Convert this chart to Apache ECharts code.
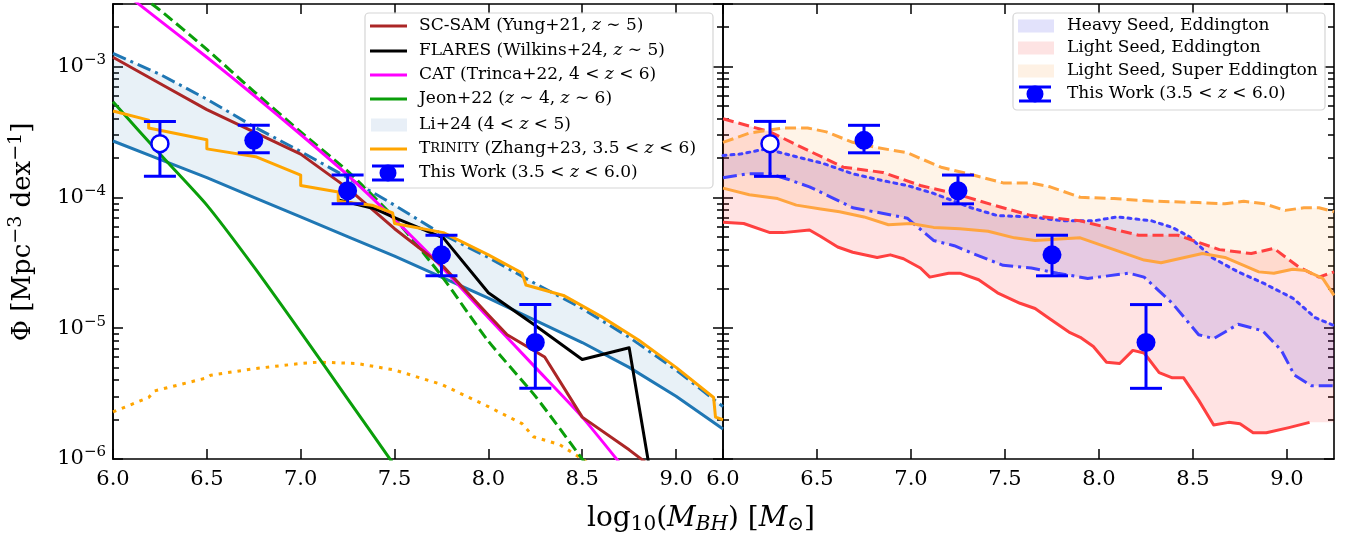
<!DOCTYPE html>
<html>
<head>
<meta charset="utf-8">
<script src="https://cdn.jsdelivr.net/npm/echarts@6/dist/echarts.min.js"></script>
<style>
  html, body { margin: 0; padding: 0; background: #fff; }
  #main { width: 1345px; height: 538px; }
</style>
</head>
<body>
<div id="main"></div>
<script>
// x = log10(M_BH), y = log10(Phi)
const FONT = '"DejaVu Serif", "Liberation Serif", serif';
const X_RANGE = [6, 9.25];
const PHI_RANGE = [1e-6, 3e-3];

const xTickLabels = [6.0, 6.5, 7.0, 7.5, 8.0, 8.5, 9.0];
const yDecades = [-6, -5, -4, -3];
const minorMantissas = [2, 3, 4, 5, 6, 7, 8, 9];

// ---- left panel ----
const scSam = [[6.0,-2.93],[6.25,-3.13],[6.5,-3.33],[6.75,-3.50],[7.0,-3.67],[7.25,-3.93],[7.5,-4.24],
  [7.76,-4.53],[8.0,-4.90],[8.1,-5.05],[8.3,-5.22],[8.5,-5.68],[8.75,-5.93],[8.86,-6.05]];
const flares = [[7.2,-4.02],[7.4,-4.09],[7.49,-4.15],[7.76,-4.31],[8.0,-4.73],[8.25,-4.98],
  [8.5,-5.24],[8.75,-5.15],[8.85,-6.0],[8.87,-6.2]];
const cat = [[6.0,-2.37],[6.25,-2.65],[6.5,-2.93],[6.75,-3.22],[7.0,-3.52],[7.25,-3.83],[7.5,-4.17],
  [7.75,-4.53],[8.0,-4.92],[8.25,-5.30],[8.5,-5.68],[8.75,-6.12]];
const jeonZ4 = [[6.0,-2.30],[6.25,-2.57],[6.5,-2.87],[6.75,-3.19],[7.0,-3.50],[7.25,-3.80],[7.5,-4.16],
  [7.75,-4.60],[8.0,-5.10],[8.25,-5.52],[8.5,-6.0],[8.6,-6.2]];
const jeonZ6 = [[6.0,-3.27],[6.25,-3.67],[6.5,-4.06],[6.75,-4.53],[7.0,-5.03],[7.25,-5.54],[7.5,-6.05]];
const li24Upper = [[6.0,-2.90],[6.25,-3.06],[6.5,-3.25],[6.75,-3.46],[7.0,-3.65],[7.25,-3.85],[7.5,-4.06],
  [7.75,-4.28],[8.0,-4.46],[8.25,-4.66],[8.5,-4.85],[8.75,-5.07],[9.0,-5.32],[9.25,-5.60]];
const li24Lower = [[6.0,-3.57],[6.25,-3.71],[6.5,-3.85],[6.75,-4.00],[7.0,-4.15],[7.25,-4.30],[7.5,-4.45],
  [7.75,-4.61],[8.0,-4.77],[8.25,-4.94],[8.5,-5.11],[8.75,-5.30],[9.0,-5.52],[9.25,-5.77]];
const trinity = [[6.0,-3.34],[6.19,-3.41],[6.19,-3.47],[6.5,-3.56],[6.5,-3.63],[6.76,-3.69],[7.0,-3.83],
  [7.0,-3.91],[7.2,-3.96],[7.2,-4.03],[7.38,-4.06],[7.49,-4.12],[7.5,-4.20],[7.76,-4.27],[8.0,-4.44],
  [8.18,-4.58],[8.2,-4.67],[8.4,-4.75],[8.6,-4.91],[8.8,-5.09],[9.0,-5.30],[9.2,-5.53],[9.21,-5.68],[9.25,-5.70]];
const trinityDotted = [[6.0,-5.64],[6.19,-5.53],[6.22,-5.48],[6.5,-5.38],[6.52,-5.36],[6.75,-5.31],[7.0,-5.27],
  [7.1,-5.26],[7.3,-5.27],[7.5,-5.32],[7.75,-5.43],[8.0,-5.60],[8.18,-5.73],[8.24,-5.83],[8.38,-5.89],
  [8.5,-6.0],[8.55,-6.05]];

// ---- this work (both panels) ----
const thisWorkX = [6.25, 6.75, 7.25, 7.75, 8.25];
const thisWorkY = [-3.59, -3.565, -3.95, -4.44, -5.11];
const thisWorkLo = [-3.84, -3.66, -4.05, -4.60, -5.46];
const thisWorkHi = [-3.42, -3.45, -3.83, -4.29, -4.82];
const thisWorkOpen = [1, 0, 0, 0, 0];

// ---- right panel ----
const heavyUpper = [[6.0,-3.68],[6.09,-3.67],[6.23,-3.63],[6.39,-3.69],[6.53,-3.74],[6.69,-3.82],[6.84,-3.87],
  [6.98,-3.91],[7.12,-3.97],[7.32,-4.08],[7.46,-4.14],[7.64,-4.15],[7.81,-4.18],[7.97,-4.18],[8.10,-4.15],
  [8.28,-4.18],[8.39,-4.23],[8.48,-4.30],[8.60,-4.46],[8.74,-4.57],[8.88,-4.66],[9.03,-4.77],[9.15,-4.92],[9.25,-4.98]];
const heavyLower = [[6.0,-3.85],[6.13,-3.82],[6.25,-3.82],[6.34,-3.86],[6.46,-3.92],[6.59,-4.01],[6.69,-4.08],
  [6.84,-4.12],[6.98,-4.16],[7.12,-4.33],[7.23,-4.37],[7.33,-4.43],[7.49,-4.52],[7.64,-4.54],[7.78,-4.58],
  [7.94,-4.62],[8.16,-4.58],[8.24,-4.61],[8.39,-4.81],[8.53,-5.05],[8.61,-5.08],[8.74,-4.97],[8.87,-5.02],
  [8.97,-5.17],[9.04,-5.36],[9.13,-5.44],[9.25,-5.44]];
const lightUpper = [[6.0,-3.40],[6.25,-3.50],[6.45,-3.64],[6.64,-3.77],[6.85,-3.81],[7.05,-3.91],[7.23,-3.97],
  [7.44,-4.06],[7.64,-4.14],[7.90,-4.18],[8.21,-4.29],[8.42,-4.29],[8.64,-4.40],[8.81,-4.43],[8.93,-4.39],
  [9.06,-4.53],[9.17,-4.61],[9.25,-4.57]];
const lightLower = [[6.0,-4.19],[6.11,-4.20],[6.25,-4.27],[6.32,-4.27],[6.46,-4.25],[6.52,-4.30],[6.61,-4.38],
  [6.69,-4.42],[6.82,-4.46],[6.89,-4.44],[6.96,-4.47],[7.05,-4.54],[7.10,-4.61],[7.20,-4.58],[7.26,-4.58],
  [7.36,-4.63],[7.46,-4.73],[7.58,-4.81],[7.66,-4.85],[7.73,-4.92],[7.84,-5.03],[7.90,-5.07],[7.97,-5.14],
  [8.04,-5.26],[8.11,-5.27],[8.18,-5.17],[8.24,-5.19],[8.32,-5.34],[8.39,-5.38],[8.45,-5.38],[8.53,-5.55],
  [8.61,-5.74],[8.69,-5.72],[8.75,-5.73],[8.82,-5.80],[8.89,-5.80],[9.01,-5.76],[9.12,-5.72]];
const lightLowerFillEnd = [9.25, -5.72];
const superUpper = [[6.0,-3.58],[6.14,-3.51],[6.32,-3.47],[6.45,-3.47],[6.55,-3.50],[6.69,-3.58],[6.82,-3.62],
  [6.98,-3.66],[7.16,-3.77],[7.33,-3.83],[7.49,-3.89],[7.64,-3.89],[7.74,-3.92],[7.90,-4.00],[8.08,-4.01],
  [8.29,-4.03],[8.53,-4.04],[8.67,-4.05],[8.77,-4.03],[8.88,-4.05],[8.99,-4.10],[9.09,-4.08],[9.17,-4.08],[9.25,-4.11]];
const superLower = [[6.0,-3.93],[6.14,-3.98],[6.29,-4.01],[6.39,-4.06],[6.52,-4.09],[6.62,-4.11],[6.75,-4.15],
  [6.88,-4.21],[7.00,-4.20],[7.12,-4.23],[7.26,-4.24],[7.41,-4.26],[7.55,-4.31],[7.66,-4.33],[7.90,-4.31],
  [8.08,-4.40],[8.24,-4.48],[8.33,-4.50],[8.55,-4.43],[8.67,-4.46],[8.85,-4.57],[8.93,-4.58],[9.03,-4.55],
  [9.10,-4.56],[9.19,-4.62],[9.25,-4.75]];

const C = {
  scSam: '#ab2626', flares: '#000000', cat: '#ff00ff', jeon: '#0a9e0a', li: '#1f77b4',
  liFill: 'rgba(31,119,180,0.1)', trinity: '#ffa500', work: '#0000ff',
  red: '#ff4040', blue: '#4040ff', orange: '#ffa540',
  heavyFill: 'rgba(0,0,255,0.11)', lightFill: 'rgba(255,0,0,0.11)', superFill: 'rgba(255,150,30,0.1)'
};
const DASH = [11, 5], DASHDOT = [14, 5, 3, 5], DOT = [3, 5];

const toPhi = pts => pts.map(p => [p[0], Math.pow(10, p[1])]);
const minorLogs = [];
yDecades.forEach(d => minorMantissas.forEach(m => {
  const v = d + Math.log10(m);
  if (v <= Math.log10(PHI_RANGE[1]) + 1e-9) minorLogs.push(v);
}));

function line(pts, color, type, panel, extra) {
  return Object.assign({
    type: 'line', xAxisIndex: panel * 2, yAxisIndex: panel * 4, data: toPhi(pts),
    symbol: 'none', silent: true, z: 3,
    lineStyle: { color: color, width: 3, type: type || 'solid', cap: 'butt', join: 'round' }
  }, extra || {});
}

function band(upper, lower, fill, panel) {
  return {
    type: 'custom', xAxisIndex: panel * 2, yAxisIndex: panel * 4, clip: true, silent: true, z: 1,
    data: [[7, 1e-4]],
    renderItem: function (params, api) {
      const pts = upper.map(p => api.coord([p[0], Math.pow(10, p[1])]))
        .concat(lower.slice().reverse().map(p => api.coord([p[0], Math.pow(10, p[1])])));
      return { type: 'polygon', shape: { points: pts }, style: { fill: fill } };
    }
  };
}

function thisWork(panel) {
  return {
    type: 'custom', xAxisIndex: panel * 2, yAxisIndex: panel * 4, silent: true, z: 10,
    data: thisWorkX.map((x, i) => [x, Math.pow(10, thisWorkY[i]), Math.pow(10, thisWorkLo[i]),
      Math.pow(10, thisWorkHi[i]), thisWorkOpen[i]]),
    renderItem: function (params, api) {
      const c = api.coord([api.value(0), api.value(1)]);
      const lo = api.coord([api.value(0), api.value(2)]);
      const hi = api.coord([api.value(0), api.value(3)]);
      const st = { stroke: C.work, lineWidth: 3 };
      const open = api.value(4) === 1;
      return { type: 'group', children: [
        { type: 'line', shape: { x1: c[0], y1: lo[1], x2: c[0], y2: hi[1] }, style: st },
        { type: 'line', shape: { x1: c[0] - 16, y1: lo[1], x2: c[0] + 16, y2: lo[1] }, style: st },
        { type: 'line', shape: { x1: c[0] - 16, y1: hi[1], x2: c[0] + 16, y2: hi[1] }, style: st },
        { type: 'circle', shape: { cx: c[0], cy: c[1], r: open ? 8.5 : 9.5 },
          style: open ? { fill: '#fff', stroke: C.work, lineWidth: 2.5 } : { fill: C.work } }
      ]};
    }
  };
}

const axisLineStyle = { color: '#000', width: 1.6 };
const tickStyle = { color: '#000', width: 1.5 };

function xAxisDef(grid, pos, labels) {
  return {
    type: 'value', gridIndex: grid, position: pos, min: X_RANGE[0], max: X_RANGE[1],
    axisLine: { show: true, onZero: false, lineStyle: axisLineStyle },
    axisTick: { show: true, inside: true, length: 10, customValues: xTickLabels, lineStyle: tickStyle },
    axisLabel: { show: labels, customValues: xTickLabels, formatter: v => v.toFixed(1), margin: 10,
      color: '#000', fontFamily: FONT, fontSize: 21 },
    splitLine: { show: false }
  };
}
// major ticks only
function yAxisDef(grid, pos) {
  return {
    type: 'log', logBase: 10, gridIndex: grid, position: pos, min: PHI_RANGE[0], max: PHI_RANGE[1],
    axisLine: { show: true, onZero: false, lineStyle: axisLineStyle },
    axisTick: { show: true, inside: true, length: 10, lineStyle: tickStyle },
    axisLabel: { show: false },
    splitLine: { show: false }
  };
}
// tick labels only (10^n)
function yLabelDef(grid) {
  return {
    type: 'log', logBase: 10, gridIndex: grid, position: 'left', min: PHI_RANGE[0], max: PHI_RANGE[1],
    axisLine: { show: false, onZero: false }, axisTick: { show: false }, splitLine: { show: false },
    axisLabel: {
      show: true, margin: 7, color: '#000',
      formatter: function (v) {
        const l = Math.log10(v), n = Math.round(l);
        if (Math.abs(l - n) > 0.01) return '';
        return '{b|10}{s|\u2212' + (-n) + '}';
      },
      rich: {
        b: { fontFamily: FONT, fontSize: 21, color: '#000' },
        s: { fontFamily: FONT, fontSize: 15, color: '#000', padding: [0, 0, 13, 0] }
      }
    }
  };
}
function yMinorDef(grid, pos) {
  return {
    type: 'value', gridIndex: grid, position: pos, min: -6, max: Math.log10(PHI_RANGE[1]),
    axisLine: { show: false, onZero: false },
    axisTick: { show: true, inside: true, length: 6, customValues: minorLogs, lineStyle: tickStyle },
    axisLabel: { show: false }, splitLine: { show: false }
  };
}

// ---- legends (decoration) ----
const legRich = {
  n: { fontFamily: FONT, fontSize: 17, color: '#000' },
  i: { fontFamily: FONT, fontSize: 17, fontStyle: 'italic', color: '#000' },
  sc: { fontFamily: FONT, fontSize: 13, color: '#000' }
};
function legText(x, y, t) {
  return { type: 'text', x: x, y: y, z: 100,
    style: { text: t, rich: legRich, align: 'left', verticalAlign: 'middle' } };
}
function legLine(x, y, color, dash) {
  return { type: 'line', z: 100, shape: { x1: x, y1: y, x2: x + 37, y2: y },
    style: { stroke: color, lineWidth: 3, lineDash: dash || null } };
}
function legPatch(x, y, fill) {
  return { type: 'rect', z: 100, shape: { x: x, y: y - 6.5, width: 36, height: 13 }, style: { fill: fill } };
}
function legErr(cx, cy) {
  const st = { stroke: C.work, lineWidth: 3 };
  return { type: 'group', z: 100, children: [
    { type: 'line', z: 100, shape: { x1: cx, y1: cy - 7, x2: cx, y2: cy + 7 }, style: st },
    { type: 'line', z: 100, shape: { x1: cx - 16, y1: cy - 7, x2: cx + 16, y2: cy - 7 }, style: st },
    { type: 'line', z: 100, shape: { x1: cx - 16, y1: cy + 7, x2: cx + 16, y2: cy + 7 }, style: st },
    { type: 'circle', z: 100, shape: { cx: cx, cy: cy, r: 8.5 }, style: { fill: C.work } }
  ]};
}
function legBox(x, y, w, h) {
  return { type: 'rect', z: 99, shape: { x: x, y: y, width: w, height: h, r: 4 },
    style: { fill: 'rgba(255,255,255,0.8)', stroke: '#d5d5d5', lineWidth: 1.2 } };
}

const leftRows = [26, 51, 75, 99, 125, 149, 173];
const rightRows = [26, 48, 71, 94];
const graphics = [
  legBox(365, 13, 348, 175),
  legLine(370, leftRows[0], C.scSam), legText(419, leftRows[0], '{n|SC-SAM (Yung+21, }{i|z}{n| \u223c 5)}'),
  legLine(370, leftRows[1], C.flares), legText(419, leftRows[1], '{n|FLARES (Wilkins+24, }{i|z}{n| \u223c 5)}'),
  legLine(370, leftRows[2], C.cat), legText(419, leftRows[2], '{n|CAT (Trinca+22, 4 < }{i|z}{n| < 6)}'),
  legLine(370, leftRows[3], C.jeon), legText(419, leftRows[3], '{n|Jeon+22 (}{i|z}{n| \u223c 4, }{i|z}{n| \u223c 6)}'),
  legPatch(371, leftRows[4], '#e8eff7'), legText(419, leftRows[4], '{n|Li+24 (4 < }{i|z}{n| < 5)}'),
  legLine(370, leftRows[5], C.trinity), legText(419, leftRows[5], '{n|T}{sc|RINITY}{n| (Zhang+23, 3.5 < }{i|z}{n| < 6)}'),
  legErr(388, leftRows[6]), legText(419, leftRows[6], '{n|This Work (3.5 < }{i|z}{n| < 6.0)}'),

  legBox(1013, 13, 312, 97),
  legPatch(1018, rightRows[0], '#e2e2fb'), legText(1067, rightRows[0], '{n|Heavy Seed, Eddington}'),
  legPatch(1018, rightRows[1], '#fde3e3'), legText(1067, rightRows[1], '{n|Light Seed, Eddington}'),
  legPatch(1018, rightRows[2], '#fef1e4'), legText(1067, rightRows[2], '{n|Light Seed, Super Eddington}'),
  legErr(1035, rightRows[3]), legText(1067, rightRows[3], '{n|This Work (3.5 < }{i|z}{n| < 6.0)}'),

  { type: 'text', x: 701, y: 519, style: {
    text: '{n|log}{sb|10}{n|(}{i|M}{si|BH}{n|) [}{i|M}{sb|\u2299}{n|]}', align: 'center', verticalAlign: 'middle',
    rich: {
      n: { fontFamily: FONT, fontSize: 28, color: '#000' },
      i: { fontFamily: FONT, fontSize: 28, fontStyle: 'italic', color: '#000' },
      sb: { fontFamily: FONT, fontSize: 20, color: '#000', padding: [12, 0, 0, 0] },
      si: { fontFamily: FONT, fontSize: 20, fontStyle: 'italic', color: '#000', padding: [12, 0, 0, 0] }
    } } },
  { type: 'text', x: 23, y: 232, rotation: Math.PI / 2, style: {
    text: '{n|\u03a6 [Mpc}{p|\u22123}{n| dex}{p|\u22121}{n|]}', align: 'center', verticalAlign: 'middle',
    rich: {
      n: { fontFamily: FONT, fontSize: 26, color: '#000' },
      p: { fontFamily: FONT, fontSize: 19, color: '#000', padding: [0, 0, 14, 0] }
    } } }
];

const series = [
  band(li24Upper, li24Lower, C.liFill, 0),
  line(li24Lower, C.li, 'solid', 0),
  line(li24Upper, C.li, DASHDOT, 0),
  line(trinityDotted, C.trinity, [3.5, 6], 0),
  line(jeonZ6, C.jeon, 'solid', 0, { smooth: 0.2 }),
  line(jeonZ4, C.jeon, DASH, 0, { smooth: 0.2 }),
  line(cat, C.cat, 'solid', 0, { smooth: 0.2 }),
  line(scSam, C.scSam, 'solid', 0),
  line(flares, C.flares, 'solid', 0),
  line(trinity, C.trinity, 'solid', 0, { z: 4 }),
  thisWork(0),

  band(heavyUpper, heavyLower, C.heavyFill, 1),
  band(lightUpper, lightLower.concat([lightLowerFillEnd]), C.lightFill, 1),
  band(superUpper, superLower, C.superFill, 1),
  line(heavyUpper, C.blue, DOT, 1, { lineStyle: { color: C.blue, width: 3, type: DOT, cap: 'round' } }),
  line(heavyLower, C.blue, DASHDOT, 1),
  line(lightUpper, C.red, DASH, 1),
  line(lightLower, C.red, 'solid', 1),
  line(superUpper, C.orange, DASH, 1),
  line(superLower, C.orange, 'solid', 1),
  thisWork(1)
];

const leftRect = { left: 113, top: 4, width: 610, height: 455, containLabel: false, outerBoundsMode: 'none' };
const chart = echarts.init(document.getElementById('main'), null, { renderer: 'canvas' });
chart.setOption({
  animation: false,
  backgroundColor: '#fff',
  grid: [
    leftRect,
    { left: 723, top: 4, width: 611, height: 455, containLabel: false, outerBoundsMode: 'none' },
    Object.assign({}, leftRect)   // carries the left panel's own left-edge ticks
  ],
  xAxis: [
    xAxisDef(0, 'bottom', true), xAxisDef(0, 'top', false), xAxisDef(1, 'bottom', true), xAxisDef(1, 'top', false),
    { type: 'value', gridIndex: 2, min: X_RANGE[0], max: X_RANGE[1], show: false }
  ],
  yAxis: [
    yAxisDef(0, 'left'), yAxisDef(0, 'right'), yMinorDef(0, 'left'), yMinorDef(0, 'right'),
    yAxisDef(1, 'left'), yAxisDef(1, 'right'), yMinorDef(1, 'left'), yMinorDef(1, 'right'),
    yLabelDef(0),
    yAxisDef(2, 'left'), yMinorDef(2, 'left')
  ],
  series: series,
  graphic: graphics
});
</script>
</body>
</html>
